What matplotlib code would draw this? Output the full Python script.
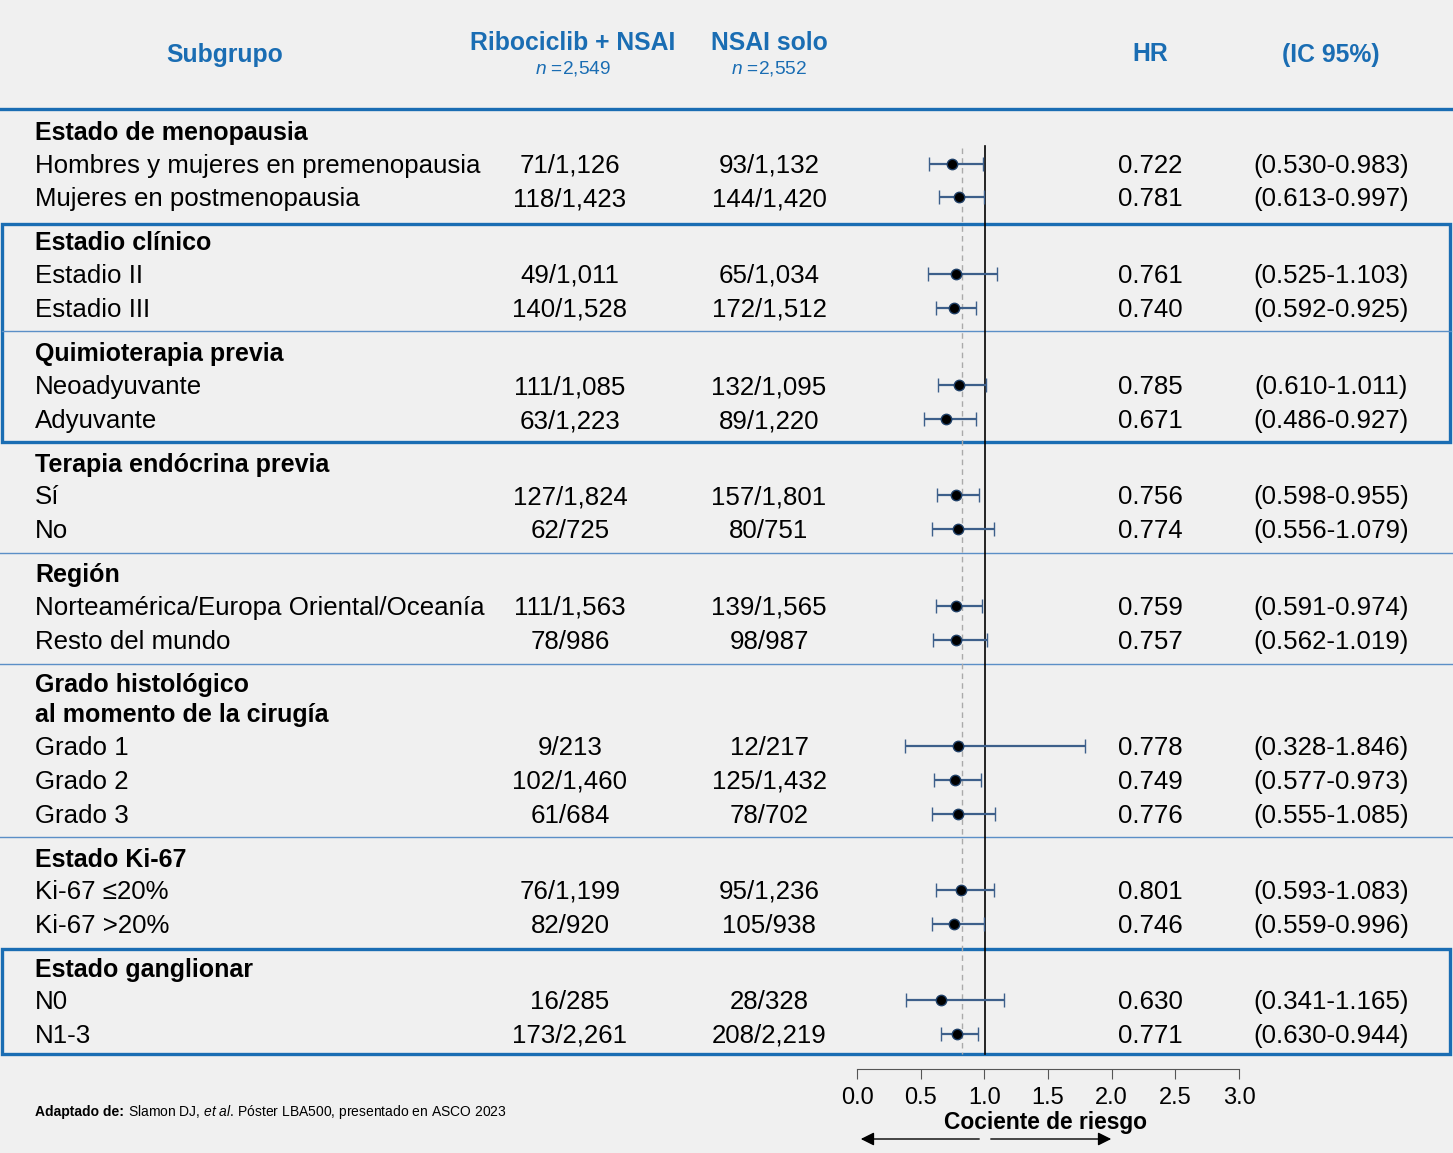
import matplotlib.pyplot as plt
from matplotlib.patches import Rectangle

plt.rcParams['font.family'] = ['Liberation Sans', 'DejaVu Sans']
plt.rcParams['mathtext.fontset'] = 'custom'
plt.rcParams['mathtext.it'] = 'Liberation Sans:italic'
plt.rcParams['mathtext.rm'] = 'Liberation Sans'

# ==== data ====
groups = ['Estado de menopausia', 'Estadio clínico', 'Quimioterapia previa',
          'Terapia endócrina previa', 'Región',
          'Grado histológico\nal momento de la cirugía', 'Estado Ki-67',
          'Estado ganglionar']
labels = ['Hombres y mujeres en premenopausia', 'Mujeres en postmenopausia',
          'Estadio II', 'Estadio III',
          'Neoadyuvante', 'Adyuvante',
          'Sí', 'No',
          'Norteamérica/Europa Oriental/Oceanía', 'Resto del mundo',
          'Grado 1', 'Grado 2', 'Grado 3',
          'Ki-67 ≤20%', 'Ki-67 >20%',
          'N0', 'N1-3']
ribo = ['71/1,126', '118/1,423', '49/1,011', '140/1,528', '111/1,085', '63/1,223',
        '127/1,824', '62/725', '111/1,563', '78/986', '9/213', '102/1,460',
        '61/684', '76/1,199', '82/920', '16/285', '173/2,261']
nsai = ['93/1,132', '144/1,420', '65/1,034', '172/1,512', '132/1,095', '89/1,220',
        '157/1,801', '80/751', '139/1,565', '98/987', '12/217', '125/1,432',
        '78/702', '95/1,236', '105/938', '28/328', '208/2,219']
hr = [0.722, 0.781, 0.761, 0.740, 0.785, 0.671, 0.756, 0.774, 0.759, 0.757,
      0.778, 0.749, 0.776, 0.801, 0.746, 0.630, 0.771]
lo = [0.530, 0.613, 0.525, 0.592, 0.610, 0.486, 0.598, 0.556, 0.591, 0.562,
      0.328, 0.577, 0.555, 0.593, 0.559, 0.341, 0.630]
hi = [0.983, 0.997, 1.103, 0.925, 1.011, 0.927, 0.955, 1.079, 0.974, 1.019,
      1.846, 0.973, 1.085, 1.083, 0.996, 1.165, 0.944]
ref_hr = 0.807
ticks = [0.0, 0.5, 1.0, 1.5, 2.0, 2.5, 3.0]

# ==== layout (pixel rows) ====
group_y = [131, 241, 352, 463, 573, 683, 858, 968]
row_y = [164, 197, 274, 308, 385, 419, 495, 529, 606, 640, 746, 780, 814,
         890, 924, 1000, 1034]
seps = [553, 664, 837]

W, H = 1453, 1153
blue = '#1a6db3'
bg = '#f0f0f0'
fig = plt.figure(figsize=(W / 100, H / 100), dpi=100, facecolor=bg)
ax = fig.add_axes([0, 0, 1, 1])
ax.set_xlim(0, W)
ax.set_ylim(H, 0)
ax.axis('off')

fs = 18.6
fsb = 18
dy = 2
# header
hkw = dict(color=blue, fontweight='bold', fontsize=17.8, ha='center', va='center')
ax.text(225, 55, 'Subgrupo', **hkw)
ax.text(573, 43, 'Ribociclib + NSAI', **hkw)
ax.text(769, 43, 'NSAI solo', **hkw)
ax.text(1150, 54, 'HR', **hkw)
ax.text(1331, 55, '(IC 95%)', **hkw)
ax.text(573, 69, r'$\it{n}$ =2,549', color=blue, fontsize=13.8, ha='center', va='center')
ax.text(769, 69, r'$\it{n}$ =2,552', color=blue, fontsize=13.8, ha='center', va='center')
ax.plot([0, W], [109, 109], color=blue, lw=2.4)

# separators and boxes
ax.plot([2, 1451], [331, 331], color='#5b8fc7', lw=1)
for y in seps:
    ax.plot([0, W], [y, y], color='#5b8fc7', lw=1)
ax.add_patch(Rectangle((2, 224), 1448, 218, fill=False, ec=blue, lw=2.4))
ax.add_patch(Rectangle((2, 949), 1448, 105, fill=False, ec=blue, lw=2.4))

for g, y in zip(groups, group_y):
    for k, part in enumerate(g.split('\n')):
        ax.text(35, y + dy + 30 * k, part, fontsize=fsb, fontweight='bold', va='center')

for i, y in enumerate(row_y):
    y = y + dy
    ax.text(35, y, labels[i], fontsize=fs, va='center')
    ax.text(570, y, ribo[i], fontsize=fs, va='center', ha='center')
    ax.text(769, y, nsai[i], fontsize=fs, va='center', ha='center')
    ax.text(1150, y, f'{hr[i]:.3f}', fontsize=fs, va='center', ha='center')
    ax.text(1331, y, f'({lo[i]:.3f}-{hi[i]:.3f})', fontsize=fs, va='center', ha='center')

# footnote
ax.text(35, 1112, 'Adaptado de:', fontsize=10, fontweight='bold', va='center')
ax.text(128, 1112, r'Slamon DJ, $\it{et\ al}$. Póster LBA500, presentado en ASCO 2023',
        fontsize=10, va='center')

# forest axes
fx = fig.add_axes([866 / W, 0, 355.8 / W, 1])
fx.set_xlim(0, 3)
fx.set_ylim(H, 0)
fx.axis('off')
fx.patch.set_alpha(0)
fx.plot([1, 1], [146, 1054], color='black', lw=1.2)
fx.plot([ref_hr, ref_hr], [148, 1054], color='#aaaaaa', lw=1, ls=(0, (4, 3)))
xerr = [[h - l for h, l in zip(hr, lo)], [u - h for h, u in zip(hr, hi)]]
fx.errorbar(hr, row_y, xerr=xerr, fmt='o', color='black', mec='#1f3f66', mew=1,
            ms=7.5, ecolor='#3d5f8a', elinewidth=1.6, capsize=5, capthick=1.6, zorder=3)

# tick axis
tx = fig.add_axes([857 / W, (H - 1070) / H, 382 / W, 0.001])
tx.set_xlim(0, 3)
tx.patch.set_alpha(0)
for s in ['left', 'right', 'bottom']:
    tx.spines[s].set_visible(False)
tx.spines['top'].set_color('#555555')
tx.set_xticks(ticks)
tx.set_xticklabels([f'{t:.1f}' for t in ticks])
tx.tick_params(axis='x', direction='in', length=7, color='#555555', labeltop=False,
               labelbottom=True, labelsize=17, pad=12, bottom=False, top=True)
tx.set_yticks([])

ax.text(1046, 1123, 'Cociente de riesgo', fontsize=16.4, fontweight='bold',
        ha='center', va='center')
ax.annotate('', xy=(858, 1139), xytext=(982, 1139),
            arrowprops=dict(arrowstyle='-|>', color='black', lw=1, mutation_scale=20))
ax.annotate('', xy=(1114, 1139), xytext=(988, 1139),
            arrowprops=dict(arrowstyle='-|>', color='black', lw=1, mutation_scale=20))

fig.savefig('out.png', dpi=100, facecolor=bg)
